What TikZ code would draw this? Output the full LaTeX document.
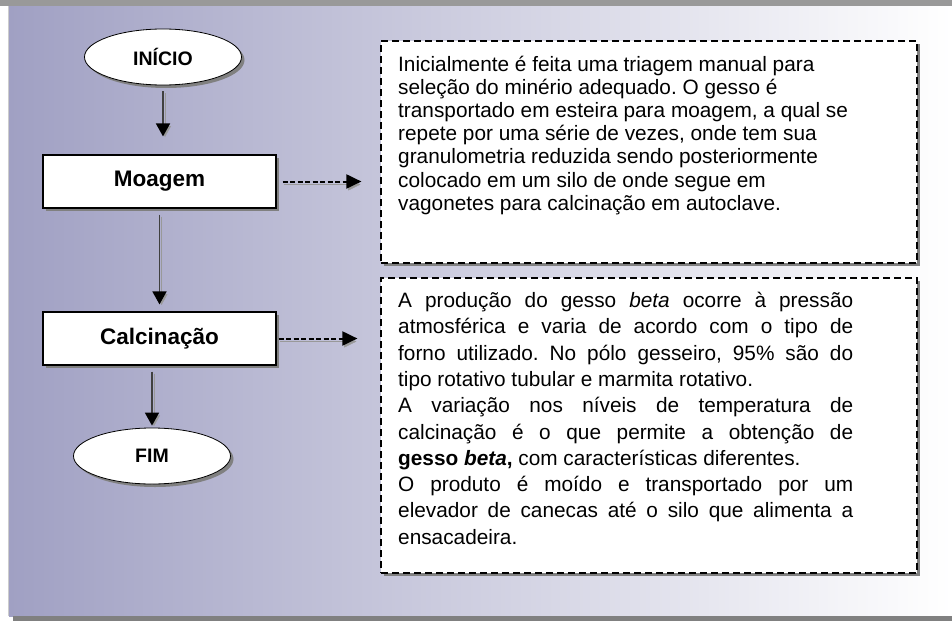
\documentclass[tikz,border=0pt]{standalone}
\usepackage{fontspec}
\setmainfont{Liberation Sans}
\usetikzlibrary{arrows.meta}
\usetikzlibrary{shapes}
\usetikzlibrary{shadows}

\definecolor{PanelLeft}{RGB}{160,160,195}
\definecolor{ShadowGray}{RGB}{128,128,128}
\frenchspacing

\begin{document}
\begin{tikzpicture}[x = 1pt, y = -1pt]
\tikzstyle{TermStyle}=[shape = ellipse,
                       draw, fill = white,
                       line width = 0.8pt,
                       minimum width = 157pt,
                       minimum height = 56pt,
                       inner sep = 0pt,
                       font = \fontsize{19.5}{22}\selectfont\bfseries,
                       drop shadow = {shadow xshift = 3pt, shadow yshift = -3pt,
                                      fill = ShadowGray, opacity = 1}]
\tikzstyle{StepStyle}=[shape = rectangle,
                       draw, fill = white,
                       line width = 1.2pt,
                       minimum width = 233pt,
                       minimum height = 53pt,
                       inner sep = 0pt,
                       font = \fontsize{22.5}{26}\selectfont\bfseries,
                       drop shadow = {shadow xshift = 3pt, shadow yshift = -3pt,
                                      fill = ShadowGray, opacity = 1}]
\tikzstyle{NoteStyle}=[shape = rectangle,
                       draw, fill = white,
                       line width = 1.2pt,
                       dash pattern = on 7pt off 4pt,
                       minimum width = 536pt,
                       inner sep = 0pt,
                       drop shadow = {shadow xshift = 3pt, shadow yshift = -3pt,
                                      fill = ShadowGray, opacity = 1}]
\tikzstyle{FlowArrow}=[line width = 1.8pt, draw = black!75,
                       -{Triangle[length = 13pt, width = 14pt, color = black]},
                       preaction = {draw = black!40, -{Triangle[length = 13pt, width = 14pt]},
                                    transform canvas = {shift = {(2pt,-2pt)}}}]
\tikzstyle{NoteArrow}=[line width = 2pt, dash pattern = on 5pt off 2.5pt,
                       -{Triangle[length = 15pt, width = 14pt]},
                       preaction = {draw = black!40, -{Triangle[length = 15pt, width = 14pt]},
                                    transform canvas = {shift = {(1pt,-3pt)}}}]
% panel
\useasboundingbox (0,0) rectangle (952,621);
\fill[black!40] (0,0) rectangle (952,6);
\shade[left color = PanelLeft, right color = white] (9,6) rectangle (952,616);
\fill[ShadowGray] (13,616) rectangle (952,621);
\draw[black!20, line width = 1pt] (8.5,6) -- (8.5,616);
% flow
\node[TermStyle] (inicio) at (163,57) {INÍCIO};
\node[StepStyle] (moagem) at (159.5,181.5) {Moagem};
\node[StepStyle] (calc) at (159.5,338.5) {Calcinação};
\node[TermStyle] (fim) at (152,456) {FIM};
\node[NoteStyle, minimum height = 222pt] (box1) at (649,152) {};
\node[NoteStyle, minimum height = 295pt] (box2) at (649,425.5) {};
\node[anchor = north west, inner sep = 0pt, align = left,
      font = \fontsize{20.8}{23.1}\selectfont] (text1) at (398,56)
  {Inicialmente é feita uma triagem manual para\\
   seleção do minério adequado. O gesso é\\
   transportado em esteira para moagem, a qual se\\
   repete por uma série de vezes, onde tem sua\\
   granulometria reduzida sendo posteriormente\\
   colocado em um silo de onde segue em\\
   vagonetes para calcinação em autoclave.};
\node[anchor = north west, inner sep = 0pt, text width = 455pt, align = justify,
      font = \fontsize{20.8}{26.3}\selectfont] (text2) at (398,292)
  {A produção do gesso \textit{beta} ocorre à pressão\linebreak
   atmosférica e varia de acordo com o tipo de\linebreak
   forno utilizado. No pólo gesseiro, 95\% são do\linebreak
   tipo rotativo tubular e marmita rotativo.\\
   A variação nos níveis de temperatura de\linebreak
   calcinação é o que permite a obtenção de\linebreak
   \textbf{gesso \textit{beta},} com características diferentes.\\
   O produto é moído e transportado por um\linebreak
   elevador de canecas até o silo que alimenta a\linebreak
   ensacadeira.};
\draw[FlowArrow, shorten <= 6pt, shorten >= 18pt] (inicio.south) -- (inicio.south |- moagem.north);
\draw[FlowArrow, shorten <= 6pt, shorten >= 7pt] (moagem.south) -- (calc.north);
\draw[FlowArrow, shorten <= 6pt, shorten >= 2pt] (fim.north |- calc.south) -- (fim.north);
\draw[NoteArrow, shorten <= 6pt, shorten >= 19pt] (moagem.east) -- (moagem.east -| box1.west);
\draw[NoteArrow, shorten <= 2pt, shorten >= 23pt] (calc.east) -- (calc.east -| box2.west);
\end{tikzpicture}
\end{document}
